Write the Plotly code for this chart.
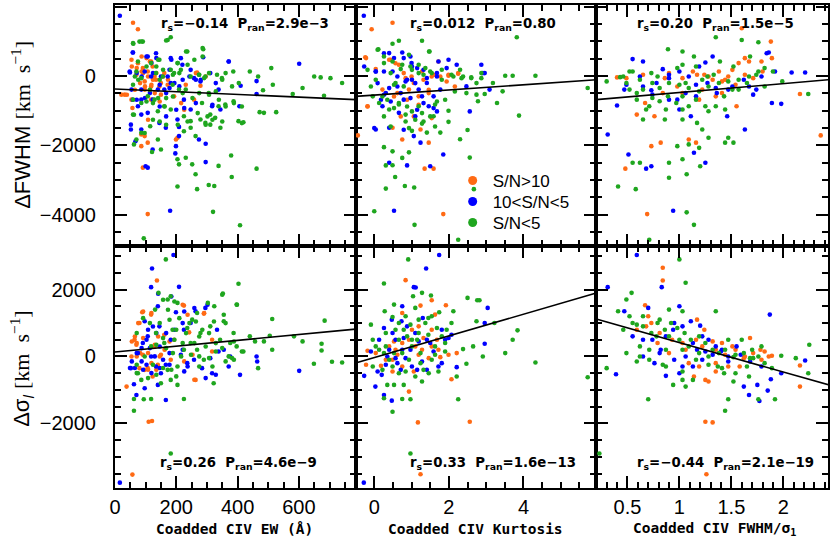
import plotly.graph_objects as go

# colours for the three S/N groups
C_HI = '#FF6A14'
C_MID = '#0000FF'
C_LO = '#1FA61F'

labels = ['S/N&gt;10', '10&lt;S/N&lt;5', 'S/N&lt;5']

x_titles = ['Coadded CIV EW (Å)', 'Coadded CIV Kurtosis', 'Coadded CIV FWHM/σ<sub>1</sub>']
y_titles = ['ΔFWHM <span style="font-family:Liberation Serif">[km  s<sup>−1</sup>]</span>',
            'Δσ<sub><i>l</i></sub> <span style="font-family:Liberation Serif">[km  s<sup>−1</sup>]</span>']

stats_top = ['r<sub>s</sub>=−0.14  P<sub>ran</sub>=2.9e−3',
             'r<sub>s</sub>=0.012  P<sub>ran</sub>=0.80',
             'r<sub>s</sub>=0.20  P<sub>ran</sub>=1.5e−5']
stats_bot = ['r<sub>s</sub>=0.26  P<sub>ran</sub>=4.6e−9',
             'r<sub>s</sub>=0.33  P<sub>ran</sub>=1.6e−13',
             'r<sub>s</sub>=−0.44  P<sub>ran</sub>=2.1e−19']

# ---- top row: delta FWHM ----
ew_dfwhm_hi = [[59, 1540], [75, 1350], [54, 470], [75, 370], [91, 230], [107, 134], [118, 420], [123, 277],
               [97, -153], [97, -390], [118, -300], [134, -105], [145, -300], [150, -200], [118, -680],
               [54, -680], [32, -535], [57, -920], [86, -1685], [86, -2020], [91, -2640], [107, -3980],
               [97, -1730], [107, -1920], [199, -1830], [204, -1780], [268, 105], [279, -280], [258, -680],
               [231, -250], [172, -250], [193, -585], [161, 86], [70, 38], [129, -10], [150, -535], [21, -535],
               [87, 566], [103, 518], [114, 422], [55, 278], [71, 230], [92, 86], [108, -10], [124, -106],
               [82, -202], [98, -298], [114, -394], [135, 86], [157, -10], [173, -106], [39, -539],
               [146, -731], [216, -779], [264, 86], [296, -10], [226, -971], [108, -1260], [87, 134],
               [119, -250], [65, -394], [130, -490]]
ew_dfwhm_mid = [[16, 1740], [59, 680], [48, 134], [54, -390], [52, -1400], [52, -1540], [67, -1880],
                [86, -1540], [100, -2600], [107, -2640], [107, 565], [134, 660], [118, -10], [97, 134],
                [140, -390], [150, -10], [161, -390], [172, -10], [182, 517], [215, 517], [220, 325],
                [247, 180], [258, -60], [279, -153], [288, 545], [311, 86], [317, -870], [338, -390],
                [371, 421], [406, -870], [410, -278], [462, -144], [601, 354], [462, -517], [180, -3885],
                [199, -2020], [209, -1730], [197, -2230], [209, -1465], [296, -2480], [296, -1950],
                [274, -1830], [123, -2115], [145, -1350], [166, -1490], [123, -680], [107, -1060],
                [86, -1110], [75, -870], [86, -680], [204, -1250], [225, -680], [182, -200], [86, -390],
                [247, -965], [344, -965],
                [58, 682], [103, 566], [135, 518], [184, 470], [119, 374], [71, 86], [87, -10], [49, 105],
                [124, 86], [146, -250], [114, -490], [98, -635], [71, -683], [58, -683], [178, -346],
                [194, -202], [221, -106], [243, -10], [264, -106], [280, -106], [329, -202], [371, 422],
                [210, -298], [178, 182], [146, -875], [167, -1163], [200, -971], [226, -923], [264, -779],
                [318, -827], [167, -490]]
ew_dfwhm_lo = [[59, 950], [80, 995], [91, 995], [172, 1040], [182, 1120], [236, 710], [288, 775], [145, 470],
               [118, 375], [75, 420], [70, 134], [86, -60], [59, -250], [59, -680], [59, -1110], [62, -1970],
               [70, -1830], [86, -1635], [97, -1640], [115, -1445], [121, -2190], [140, -1830], [150, -2115],
               [204, -2400], [209, -2545], [231, -2355], [252, -2545], [263, -2830], [268, -3260],
               [204, -3185], [306, -3140], [324, -3170], [320, -3915], [338, -2590], [379, -2290],
               [381, -2910], [408, -4300], [462, -2670], [94, -4680], [182, 180], [193, 86], [215, 180],
               [247, -10], [274, 38], [295, -10], [333, 38], [349, -60], [386, 134], [440, 134], [467, -10],
               [510, 230], [515, -250], [483, -410], [526, -1040], [472, -1040], [486, -1060], [403, -1300],
               [419, -1330], [387, -725], [360, -820], [338, -870], [311, -1110], [295, -1350], [279, -1250],
               [247, -1300], [225, -1160], [182, -965], [161, -870], [140, -1015], [129, -680], [107, -585],
               [86, -775], [612, -345], [650, -10], [671, -38], [703, -60], [741, -200], [580, -517],
               [682, -565], [284, -775], [306, -490], [311, -1400], [327, -1205], [344, -1490], [263, -1730],
               [247, -1490], [225, -1590], [188, -250], [209, -390], [231, -390], [156, -10], [134, 86],
               [204, 375],
               [60, 932], [87, 999], [167, 1028], [232, 711], [259, 470], [286, 807], [286, 566], [141, 470],
               [205, 374], [237, 326], [135, 278], [157, 182], [103, 278], [65, -10], [76, -106], [146, -106],
               [189, 38], [210, 86], [275, 38], [291, -58], [307, 86], [350, -106], [382, -298], [404, -202],
               [361, 86], [114, -394], [103, -731], [124, -779], [141, -635], [167, -635], [162, -875],
               [189, -587], [221, -490], [253, -635], [275, -490], [307, -539], [329, -442], [339, -683],
               [361, -875], [388, -779], [414, -875], [270, -1067], [302, -1163], [318, -1260], [350, -1308],
               [296, -1404], [205, -1404], [167, -1404], [146, -1308], [124, -1260], [62, -1115],
               [237, -1308], [414, -1356]]

kurt_dfwhm_hi = [[-0.07, 1350], [0.49, 1540], [-0.24, 545], [-0.18, -870], [-0.44, -1710], [0.4, 470],
                 [0.57, 370], [0.84, -60], [1.06, -200], [1.28, 134], [1.54, -10], [1.99, 10], [2.25, 67],
                 [1.85, -3980], [1.35, -2670], [1.59, -2670], [1.46, -1920], [0.75, -1830], [0.49, -1490],
                 [1.24, -1540], [1.19, -585], [0.93, -390], [1.46, -490], [0.62, -490], [0.22, -390],
                 [2.16, -300],
                 [-0.22, 518], [0.04, 201], [0.44, 470], [0.66, 326], [0.79, 86], [1.0, -10], [1.32, -106],
                 [1.59, 38], [1.77, -10], [1.99, 38], [2.25, 86], [1.72, 422], [-0.18, -875], [0.53, -587],
                 [0.88, -683], [0.71, -1163], [1.06, -1163], [1.54, -1212], [1.19, -827], [1.94, -154],
                 [1.46, -394]]
kurt_dfwhm_mid = [[-0.28, 1740], [0.26, 660], [0.04, 134], [0.49, 134], [0.75, 680], [0.97, 565], [1.01, 277],
                  [0.84, -153], [0.62, -300], [1.19, -390], [1.41, -200], [1.72, 420], [1.99, 470],
                  [1.77, -390], [1.46, -870], [2.87, 325], [2.96, 86], [3.09, -390], [0.22, -870],
                  [0.04, -1540], [0.4, -1490], [0.53, -3885], [0.4, -2500], [0.88, -2575], [1.06, -1730],
                  [1.24, -1920], [1.5, -2600], [1.85, -2260], [1.1, -1160], [0.79, -680], [1.28, -585],
                  [1.59, -585], [1.01, -105], [0.31, -490], [0.66, -1060], [1.68, -10],
                  [-0.27, 278], [0.04, 134], [0.26, 134], [0.4, 663], [0.53, 518], [0.79, 518], [1.0, 374],
                  [1.15, 230], [1.32, 182], [0.62, -10], [0.88, -106], [1.1, -202], [1.41, -58], [1.68, 86],
                  [1.94, 230], [2.21, 326], [2.47, -298], [2.91, 86], [0.09, -202], [0.26, -539],
                  [0.18, -683], [0.44, -731], [0.71, -490], [0.97, -635], [1.32, -779], [1.59, -923],
                  [1.68, -1019], [1.15, -971], [0.0, -1500], [0.79, -1548], [2.56, -1019], [0.4, -346]]
kurt_dfwhm_lo = [[0.66, 1020], [0.11, 775], [1.28, 1020], [3.82, 1120], [1.47, 710], [-0.18, 180], [0.26, 375],
                 [0.49, 420], [0.75, 325], [1.19, 325], [1.01, 180], [1.37, 230], [1.54, 86], [1.81, -105],
                 [2.07, 38], [2.34, -60], [2.6, -38], [2.87, -60], [3.18, -200], [3.51, 10], [3.71, 10],
                 [4.32, 10], [5.72, -345], [2.74, -535], [2.78, -725], [2.96, -517], [3.44, -440],
                 [3.29, -775], [3.88, -1140], [2.5, -1555], [2.3, -1820], [1.99, -1320], [1.77, -1630],
                 [1.59, -1160], [1.41, -1630], [1.28, -1370], [1.01, -1580], [0.75, -2360], [0.93, -2200],
                 [0.49, -2170], [0.26, -2050], [0.49, -2570], [0.31, -2575], [0.56, -2910], [0.82, -3170],
                 [1.07, -3215], [0.31, -3245], [0.0, -3900], [1.08, -4290], [2.25, -4720], [2.56, -2350],
                 [2.67, -3260], [1.99, -1000], [0.13, -775], [0.4, -965], [0.66, -820], [0.84, -1110],
                 [1.19, -870], [1.63, -820], [0.53, -250], [0.04, -105], [-0.04, -585], [-0.09, -300],
                 [0.09, 759], [0.49, 932], [0.26, 566], [0.93, 614], [1.48, 711], [0.97, 278], [0.71, 201],
                 [0.44, 86], [0.57, -202], [0.79, -298], [1.19, 86], [1.32, 38], [1.5, 134], [1.81, 182],
                 [2.12, -10], [2.3, 182], [2.38, -10], [2.6, -58], [2.74, -202], [2.87, 86], [0.22, -587],
                 [0.35, -683], [0.53, -923], [0.66, -779], [0.88, -875], [1.01, -1019], [1.28, -1067],
                 [1.5, -1163], [1.68, -731], [1.9, -683], [2.16, -442], [2.47, -490], [0.26, -1163],
                 [0.84, -1308], [1.1, -1260], [1.32, -1308], [1.63, -1452], [0.44, -1452], [0.93, -1500]]

ratio_dfwhm_hi = [[0.4, -38], [0.59, -1110], [0.67, -775], [0.76, -1160], [0.82, -1920], [0.73, -2020],
                  [0.48, -2670], [0.69, -3980], [1.09, -1830], [1.16, -1920], [0.86, -60], [0.65, 38],
                  [1.17, 38], [1.24, 38], [1.32, -105], [1.41, -153], [1.47, -10], [1.51, 180], [1.57, 375],
                  [1.67, 420], [1.79, 420], [1.88, 995], [1.89, 517], [1.6, 1380], [1.35, -585],
                  [1.55, -870], [2.16, -517], [2.36, -1710], [1.19, -680], [1.03, -490],
                  [0.49, -60], [0.9, 86], [1.03, -60], [1.13, 134], [1.28, -10], [1.38, 134], [1.44, -105],
                  [1.54, -250], [1.63, 38], [1.71, -60], [1.8, 134], [1.63, 517], [0.98, -300], [1.41, -490],
                  [1.22, -390], [0.84, -490]]
ratio_dfwhm_mid = [[0.55, 490], [0.65, 420], [0.31, -1685], [0.4, -850], [0.47, -390], [0.73, -410], [0.84, 200],
                   [0.9, -60], [0.98, -680], [1.0, -965], [1.06, -490], [1.16, -250], [1.25, 390], [1.32, 565],
                   [1.11, -1160], [1.25, -2500], [1.14, -2210], [0.73, -2600], [0.68, -2670], [0.51, -2260],
                   [0.94, -3885], [1.46, -1160], [1.35, -345], [1.47, -390], [1.62, -105], [1.63, -1540],
                   [1.71, -535], [1.74, -390], [1.84, 660], [1.86, 680], [1.89, -775], [1.98, -800],
                   [2.08, 105], [2.21, 105], [1.92, 134], [1.09, -10], [0.78, -200], [0.62, -10],
                   [0.49, -250], [0.65, -300], [0.9, 38], [1.0, 134], [1.19, 277], [1.27, -200], [1.36, -490],
                   [1.51, -300], [1.67, -300], [1.79, -10], [1.16, -585], [0.9, -680], [0.74, -535]]
ratio_dfwhm_lo = [[0.89, 775], [1.03, 710], [1.14, 565], [1.35, 1120], [1.6, 1040], [1.76, 975], [1.68, 565],
                  [0.3, -153], [0.43, -30], [0.52, 134], [0.49, -200], [0.59, -490], [0.65, -390],
                  [0.74, -630], [0.81, -725], [0.89, -585], [0.97, -775], [1.03, -965], [1.09, -870],
                  [1.17, -1350], [1.22, -1540], [1.28, -1015], [1.35, -870], [1.43, -585], [1.51, -390],
                  [1.57, -390], [1.65, -200], [1.74, 38], [1.82, -300], [1.99, -153], [2.24, -517],
                  [1.47, -1780], [1.52, -1920], [1.44, -1920], [1.28, -1780], [1.19, -2070], [1.09, -1970],
                  [0.98, -2020], [0.9, -2500], [1.03, -2400], [1.2, -2600], [1.07, -2830], [0.9, -2930],
                  [0.55, -2500], [0.62, -2500], [0.58, -3260], [0.41, -3185], [1.07, -3930], [1.14, -4290],
                  [0.71, -4720], [0.59, -680], [0.68, -965], [0.52, -390], [1.06, -200], [1.22, -105],
                  [1.33, 38], [0.79, -10], [0.98, 230],
                  [0.46, -10], [0.55, 134], [0.62, -105], [0.73, 86], [0.81, -345], [0.9, -200], [1.0, -250],
                  [1.09, -345], [1.19, -440], [1.28, -300], [1.38, -200], [1.47, -153], [1.57, -105],
                  [1.67, -10], [1.76, 134], [1.82, 230], [1.9, 134], [1.03, 325], [1.16, 277], [1.27, -10],
                  [1.39, 420], [1.52, 277], [0.71, -870], [0.87, -965], [1.03, -585], [1.16, -680],
                  [1.25, -870], [1.44, -965], [0.65, -1250], [0.86, -1250], [1.03, -1250], [0.74, -200]]

# ---- bottom row: delta sigma ----
ew_dsig_hi = [[57, -3530], [137, 2270], [89, 1320], [118, 1250], [80, 1000], [64, 500], [70, 350], [91, 50],
              [107, -350], [123, -600], [140, -250], [150, 50], [54, 0], [38, -900], [110, -1950],
              [121, -1930], [97, -400], [182, -100], [193, 500], [225, 1520], [242, 720], [263, -700],
              [290, 1280], [317, 500], [317, 150], [161, 650], [129, 300], [80, -350],
              [92, 1344], [119, 1295], [76, 996], [65, 598], [92, 548], [71, 399], [55, 449], [82, 101],
              [71, 1], [108, 101], [119, -198], [135, -397], [108, -397], [146, 1], [162, 200], [178, 449],
              [221, 1543], [237, 1245], [291, 1294], [253, 51], [226, -148], [259, -696], [141, 598],
              [130, 349]]
ew_dsig_mid = [[16, -3770], [191, 3030], [121, 2630], [118, 2070], [209, 2080], [140, 1500], [145, 900],
               [97, 1050], [107, 600], [91, 400], [75, 100], [118, 0], [134, -300], [150, -500], [166, -250],
               [52, -350], [70, -1150], [62, -830], [97, -950], [140, -850], [166, -1300], [199, 1320],
               [225, 800], [247, 1000], [263, 1350], [295, 1450], [333, 800], [311, -50], [284, -350],
               [317, -500], [338, 150], [355, 200], [376, 0], [408, -550], [371, -300], [462, 0],
               [464, -150], [601, -430], [215, 50], [236, -200], [182, 500], [258, -100],
               [141, 1872], [184, 1792], [226, 1344], [259, 1444], [302, 1543], [108, 797], [124, 897],
               [135, 698], [167, 698], [194, 797], [221, 996], [103, 498], [87, 250], [114, 250], [146, 299],
               [178, 101], [221, 200], [55, -148], [71, 101], [87, -148], [103, -248], [130, 1], [157, -99],
               [65, -347], [92, -397], [119, -497], [146, -347], [178, -248], [237, -298], [296, -646],
               [329, -546], [226, -447], [49, -347]]
ew_dsig_lo = [[94, 3470], [166, 2900], [182, 1800], [172, 1700], [142, 1900], [131, 1400], [204, 1600],
              [188, 800], [161, 400], [134, 700], [118, 300], [97, 0], [75, -500], [86, -700], [62, -1620],
              [62, -1270], [94, -1280], [118, -1270], [150, -800], [182, -700], [204, -850], [225, -1270],
              [182, -2900], [236, 850], [252, 1100], [268, 1300], [303, 1600], [324, 1500], [352, 1880],
              [397, 1550], [403, 2170], [355, 1050], [387, 700], [376, 400], [397, 300], [419, 150],
              [440, 600], [457, 450], [467, -350], [486, 450], [513, 1120], [513, 200], [505, 620],
              [584, 600], [612, 450], [674, 380], [674, 180], [684, 1070], [649, -220], [708, -160],
              [741, -180], [322, -800], [290, -100], [268, 200], [247, 400], [225, 200], [204, -300],
              [172, -400], [279, 700], [311, 900], [343, 500],
              [157, 1692], [194, 1643], [173, 1394], [210, 1145], [264, 1046], [285, 797], [323, 1046],
              [355, 1245], [398, 1543], [350, 1842], [92, 1145], [114, 996], [146, 996], [178, 1096],
              [243, 996], [200, 797], [232, 698], [275, 598], [307, 698], [329, 399], [361, 996], [388, 449],
              [71, 698], [157, 548], [194, 498], [221, 399], [259, 399], [296, 299], [329, 150], [350, 250],
              [371, 1], [388, -99], [414, 150], [135, 349], [167, 250], [189, 101], [216, 1], [248, 51],
              [275, 1], [307, -49], [71, -248], [124, -248], [157, -347], [184, -397], [275, -298],
              [318, -298], [361, -148], [382, -49], [108, -646], [200, -596], [71, -497], [135, -546]]

kurt_dsig_hi = [[0.84, 2280], [1.63, 1250], [1.54, 1680], [1.92, 1530], [1.24, 1520], [0.75, 1300],
                [-0.18, 170], [-0.22, -250], [0.18, -280], [0.49, -100], [0.62, 50], [0.75, 400], [1.19, 50],
                [1.46, -50], [1.32, 550], [1.68, 500], [1.99, 50], [2.21, 100], [2.07, -680], [0.93, -1050],
                [1.17, -1970], [2.56, -1950], [1.24, -3520], [1.77, -20], [0.4, 300], [1.01, 800],
                [0.04, 100], [0.31, -100], [0.57, 200], [0.93, 500], [1.1, 300], [1.28, 200], [1.54, 300],
                [1.72, 200], [0.75, -300], [1.06, -450], [0.49, -450], [1.54, 800], [1.19, 900], [0.53, 450]]
kurt_dsig_mid = [[-0.28, -3770], [1.74, 3030], [1.39, 2630], [1.06, 2070], [1.11, 2060], [0.75, 1500],
                 [1.3, 1150], [0.73, 1050], [0.47, 1100], [0.26, 850], [3.04, 1450], [2.96, 1000],
                 [2.96, 380], [1.99, 550], [1.81, 800], [0.49, 700], [0.79, 550], [1.19, 450], [1.5, 400],
                 [0.97, 200], [0.35, 0], [0.62, -200], [1.01, -300], [1.41, -400], [1.72, -300], [1.81, -200],
                 [2.21, -320], [0.2, -550], [0.03, -900], [0.26, -1150], [0.47, -1320], [0.09, -450],
                 [-0.27, -580], [-0.09, 150], [0.75, 200],
                 [0.13, 500], [0.4, 200], [0.57, 500], [0.88, 900], [1.1, 700], [1.41, 500], [1.59, 150],
                 [1.28, -150], [0.84, -50], [0.57, -50], [0.31, -250], [0.71, -400], [1.15, -400], [1.9, 500],
                 [2.07, 650]]
kurt_dsig_lo = [[0.91, 2900], [0.26, 2180], [1.04, 1800], [1.28, 1900], [1.52, 1820], [0.53, 1550],
                [0.28, 1350], [-0.09, 950], [1.1, 1450], [1.45, 1150], [1.74, 1320], [2.12, 1350],
                [2.5, 1750], [2.76, 1680], [2.82, 1680], [2.74, 1050], [3.22, 1000], [3.84, 780], [3.71, 500],
                [3.51, 100], [4.32, -180], [5.72, -620], [2.91, 0], [2.65, 300], [2.38, 220], [2.21, -600],
                [2.47, -220], [2.25, -1280], [0.97, -2900], [0.49, 1180], [0.57, 800], [0.97, 950],
                [0.88, 600], [1.15, 500], [1.45, 650], [1.63, 300], [1.9, 400], [0.31, 300], [0.04, 300],
                [0.26, 100], [0.53, 100], [0.93, -100], [1.24, -200], [1.54, -100], [1.32, -400],
                [1.1, -600], [0.66, -500], [0.35, -850], [0.53, -850], [0.79, -850], [1.28, -750],
                [0.49, -1650], [0.75, -1270], [0.97, -1280], [0.26, -1250], [-0.04, -300],
                [-0.04, 500], [0.13, 200], [0.31, 700], [0.4, -100], [0.66, 500], [0.79, 800], [1.01, 500],
                [1.19, 700], [1.37, 1000], [1.54, 1200], [1.68, 850], [1.81, 600], [1.94, 800], [2.07, 1000],
                [0.75, 100], [1.01, 300], [1.24, 100], [1.63, 50], [1.9, 150], [0.49, -300], [0.84, -450],
                [1.46, -500], [1.72, -450], [0.22, -400], [1.19, 1100], [0.84, 1200], [0.66, 1000]]

ratio_dsig_hi = [[0.84, 2650], [0.84, 2270], [0.67, 1530], [0.7, 1200], [0.73, 1000], [1.17, 1100],
                 [1.24, 800], [1.32, 450], [1.41, 400], [1.51, 300], [1.62, -50], [1.68, 550], [1.82, 150],
                 [1.89, 20], [2.16, -270], [2.16, -900], [1.25, -1950], [1.32, -1970], [1.26, -3520],
                 [0.59, 800], [0.79, 400], [0.9, 100], [1.06, 200], [1.19, -300], [1.28, -750],
                 [1.14, -600], [1.35, -200], [1.58, -300], [1.79, -100],
                 [0.68, 900], [0.81, 700], [0.93, 500], [1.03, 400], [1.16, 500], [1.22, 300], [1.35, 200],
                 [1.44, 50], [1.54, 200], [1.63, 0], [1.71, 100], [1.78, 200], [1.86, 0], [1.35, -450],
                 [1.47, -300], [1.09, -200], [1.25, -700]]
ratio_dsig_mid = [[0.31, 2070], [0.59, 3030], [0.83, 2070], [0.7, 1450], [1.0, 1500], [0.47, 1350],
                  [0.55, 600], [0.65, 500], [0.76, -200], [0.87, -580], [1.0, -500], [1.03, -300],
                  [1.11, 1050], [1.2, 920], [1.22, 600], [1.28, 500], [1.35, 300], [1.41, 200], [1.22, -100],
                  [1.13, -300], [1.62, -900], [1.67, -1150], [1.75, -850], [1.77, -1330], [1.85, -1020],
                  [1.88, -680], [1.87, 1250], [1.98, -500], [2.21, -120], [0.39, -530], [0.65, 0],
                  [0.81, 100], [0.94, 800], [1.47, 0], [1.55, 300],
                  [0.74, 500], [0.87, 600], [0.95, 1000], [1.03, 900], [1.13, 400], [1.17, 200], [1.25, 150],
                  [1.32, 50], [1.4, 150], [1.47, -150], [1.59, 50], [1.68, -150], [1.79, -300], [0.82, 200],
                  [0.95, -100], [1.06, 0]]
ratio_dsig_lo = [[1.0, 2900], [1.06, 2200], [0.54, 1900], [0.49, 1700], [0.41, 1350], [0.3, -350],
                 [0.23, -2900], [0.7, -1280], [1.44, -1620], [1.47, -1280], [1.52, -750], [1.76, -1280],
                 [1.92, -1280], [2.24, -500], [2.25, 350], [1.98, 20], [2.12, -50], [1.79, 300], [1.7, 200],
                 [1.6, 500], [1.47, 500], [1.35, 1350], [1.03, 1350], [0.9, 1400], [0.81, 1100],
                 [0.65, 1200], [0.55, 1000], [0.46, 800], [0.49, 100], [0.59, -150], [0.71, -100],
                 [0.84, -250], [0.94, -850], [1.03, -700], [1.06, -900], [1.13, -700], [0.9, 600],
                 [1.0, 500], [1.09, 300], [1.19, 100], [1.28, 0], [1.37, -300], [1.43, -500], [1.65, -300],
                 [1.71, -50], [1.52, -20], [0.62, 300], [0.78, 600],
                 [0.52, 1200], [0.59, 950], [0.65, 900], [0.73, 700], [0.79, 1000], [0.86, 800], [0.92, 1000],
                 [0.98, 850], [1.05, 700], [1.11, 500], [1.19, 600], [1.25, 400], [1.32, 200], [1.38, 100],
                 [1.44, 200], [1.54, 50], [1.62, 100], [1.68, -50], [1.76, 0], [1.82, -200], [1.89, -350],
                 [1.03, 200], [0.87, 200], [0.71, 200], [0.62, 0], [1.16, -100], [1.28, -250], [1.41, -350],
                 [1.54, -500], [1.67, -600], [1.03, -450], [0.87, -300]]

# best-fit line end points (x, y) per panel
fit_x = [[0, 785], [-0.5, 5.95], [0.2, 2.52], [0, 785], [-0.5, 5.95], [0.2, 2.52]]
fit_y = [[-373, -680], [-585, -106], [-680, -84], [131, 818], [-197, 1893], [1116, -923]]

panels = [
    (ew_dfwhm_hi, ew_dfwhm_mid, ew_dfwhm_lo),
    (kurt_dfwhm_hi, kurt_dfwhm_mid, kurt_dfwhm_lo),
    (ratio_dfwhm_hi, ratio_dfwhm_mid, ratio_dfwhm_lo),
    (ew_dsig_hi, ew_dsig_mid, ew_dsig_lo),
    (kurt_dsig_hi, kurt_dsig_mid, kurt_dsig_lo),
    (ratio_dsig_hi, ratio_dsig_mid, ratio_dsig_lo),
]

W, H = 830, 538
col_px = [(110, 353), (353, 596), (596, 830)]
row_px = [(5, 246), (246, 488)]
x_ranges = [[0, 785], [-0.5, 5.95], [0.2, 2.43]]
x_dtick = [200, 2, 0.5]
x_minor = [50, 0.5, 0.1]
y_ranges = [[-4900, 2050], [-3930, 3300]]

fig = go.Figure()

for k, groups in enumerate(panels):
    ax = '' if k == 0 else str(k + 1)
    for pts, col in zip(groups, [C_HI, C_MID, C_LO]):
        fig.add_trace(go.Scatter(
            x=[p[0] for p in pts], y=[p[1] for p in pts],
            mode='markers', marker=dict(size=4.6, color=col, line=dict(width=0)),
            showlegend=False, xaxis='x' + ax, yaxis='y' + ax, hoverinfo='skip'))
    fig.add_trace(go.Scatter(
        x=fit_x[k], y=fit_y[k], mode='lines', line=dict(color='black', width=1.6),
        showlegend=False, xaxis='x' + ax, yaxis='y' + ax))

# legend entries (no data, just the key), one small legend per row
legend_names = ['legend', 'legend2', 'legend3']
for name, col, lg in zip(labels, [C_HI, C_MID, C_LO], legend_names):
    fig.add_trace(go.Scatter(x=[None], y=[None], mode='markers', name=name, legend=lg,
                             marker=dict(size=9, color=col), xaxis='x2', yaxis='y2'))

tick_font = dict(family='Liberation Sans', size=20, color='black')
common = dict(showline=True, linewidth=2, linecolor='black', mirror='allticks', ticks='inside',
              ticklen=12, tickwidth=2, tickcolor='black', showgrid=False, zeroline=False,
              tickfont=tick_font)

layout = {}
for k in range(6):
    r, c = divmod(k, 3)
    ax = '' if k == 0 else str(k + 1)
    x0, x1 = col_px[c]
    y0, y1 = row_px[r]
    layout['xaxis' + ax] = dict(
        common, domain=[x0 / W, x1 / W], range=x_ranges[c], anchor='y' + ax,
        dtick=x_dtick[c], tick0=0, showticklabels=(r == 1), ticklabelstandoff=0,
        minor=dict(ticks='inside', ticklen=6, tickwidth=2, tickcolor='black', dtick=x_minor[c], tick0=0))
    layout['yaxis' + ax] = dict(
        common, domain=[1 - y1 / H, 1 - y0 / H], range=y_ranges[r], anchor='x' + ax,
        dtick=2000, tick0=0, showticklabels=(c == 0), ticklabelstandoff=13,
        minor=dict(ticks='inside', ticklen=6, tickwidth=2, tickcolor='black', dtick=500, tick0=0))

stat_font = dict(family='DejaVu Sans', size=13.3, color='black', weight='bold')
annotations = []
top_cx = [241, 482, 716]
bot_cx = [235, 492, 726]
for c in range(3):
    annotations.append(dict(x=top_cx[c] / W, y=1 - 25 / H, text=stats_top[c], showarrow=False,
                            xref='paper', yref='paper', xanchor='center', yanchor='middle', font=stat_font))
    annotations.append(dict(x=bot_cx[c] / W, y=1 - 463 / H, text=stats_bot[c], showarrow=False,
                            xref='paper', yref='paper', xanchor='center', yanchor='middle', font=stat_font))

xt_cx = [231, 474, 715]
for c in range(3):
    annotations.append(dict(x=xt_cx[c] / W, y=1 - 529 / H, text=x_titles[c], showarrow=False,
                            xref='paper', yref='paper', xanchor='center', yanchor='middle',
                            font=dict(family='DejaVu Sans Mono', size=14.5, color='black', weight='bold')))

yt_cy = [125, 368]
for r in range(2):
    annotations.append(dict(x=15 / W, y=1 - yt_cy[r] / H, text=y_titles[r], showarrow=False, textangle=-90,
                            xref='paper', yref='paper', xanchor='center', yanchor='middle',
                            font=dict(family='Liberation Sans', size=22, color='black')))

leg_common = dict(xanchor='left', yanchor='middle', bgcolor='rgba(0,0,0,0)',
                  font=dict(family='Liberation Sans', size=17, color='black'))
leg_rows = [181, 202, 223]

fig.update_layout(
    width=W, height=H,
    margin=dict(l=0, r=0, t=0, b=0),
    paper_bgcolor='white', plot_bgcolor='white',
    annotations=annotations,
    legend=dict(leg_common, x=451 / W, y=1 - leg_rows[0] / H),
    legend2=dict(leg_common, x=451 / W, y=1 - leg_rows[1] / H),
    legend3=dict(leg_common, x=451 / W, y=1 - leg_rows[2] / H),
    **layout)

# the page body has a default 8px margin; drop it so the figure sits at the window corner
fig.write_html("out.html", config={'displayModeBar': False},
               post_script="document.body.style.margin='0px';")
